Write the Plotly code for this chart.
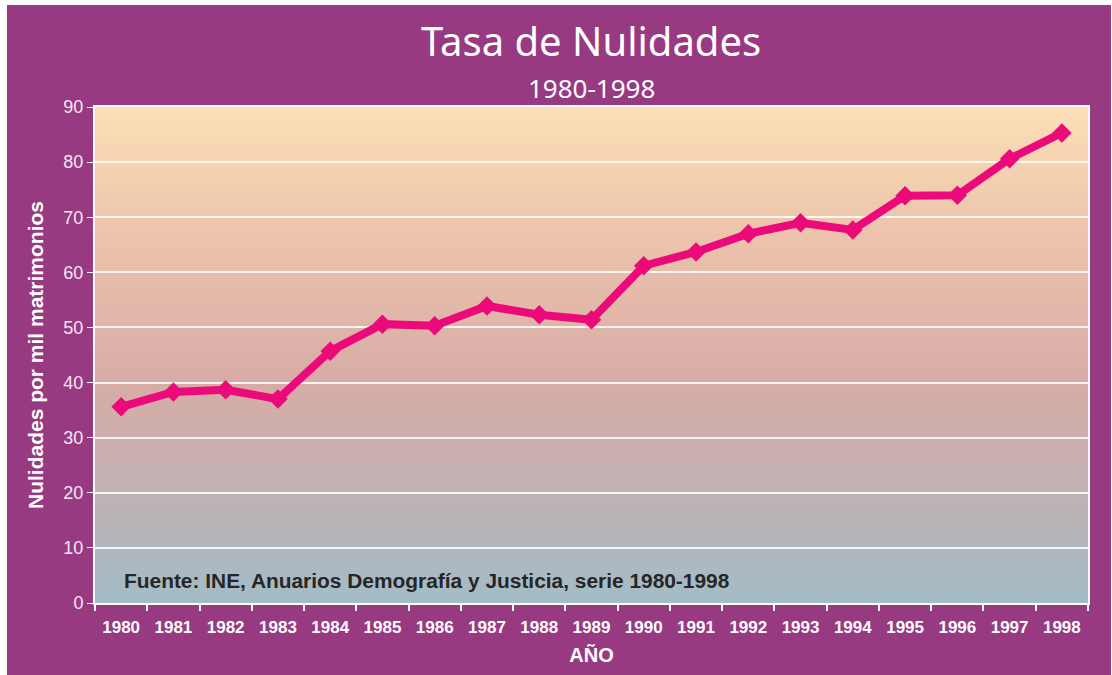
import plotly.graph_objects as go

years = ["1980","1981","1982","1983","1984","1985","1986","1987","1988","1989",
         "1990","1991","1992","1993","1994","1995","1996","1997","1998"]
rates = [35.6, 38.3, 38.7, 37.0, 45.7, 50.6, 50.3, 53.9, 52.3, 51.4,
         61.2, 63.7, 67.0, 69.0, 67.7, 73.9, 74.0, 80.6, 85.3]
y_ticks = [0, 10, 20, 30, 40, 50, 60, 70, 80, 90]

PURPLE = "#983A82"
LINE = "#EC0A7A"

def lerp(c1, c2, t):
    return tuple(round(a + (b - a) * t) for a, b in zip(c1, c2))

stops = [(0.0, (163, 188, 200)), (0.22, (192, 178, 180)), (0.45, (216, 172, 166)),
         (0.75, (236, 196, 172)), (1.0, (253, 223, 183))]

def color_at(t):
    for (t0, c0), (t1, c1) in zip(stops[:-1], stops[1:]):
        if t0 <= t <= t1:
            return "rgb(%d,%d,%d)" % lerp(c0, c1, (t - t0) / (t1 - t0))
    return "rgb(%d,%d,%d)" % stops[-1][1]

shapes = [dict(type="rect", xref="paper", yref="paper", x0=-88/993, x1=(1111-95)/993,
               y0=-72/496, y1=(675-5-72)/496, fillcolor=PURPLE, line=dict(width=0), layer="below")]
N = 90
for i in range(N):
    y0 = i / N
    y1 = (i + 1) / N + 0.002
    shapes.append(dict(type="rect", xref="paper", yref="paper", x0=0, x1=1, y0=y0, y1=min(y1, 1),
                       fillcolor=color_at((i + 0.5) / N), line=dict(width=0), layer="below"))

fig = go.Figure()
fig.add_trace(go.Scatter(
    x=years, y=rates, mode="lines+markers",
    line=dict(color=LINE, width=8),
    marker=dict(symbol="diamond", size=15, color=LINE),
    hoverinfo="x+y", showlegend=False))

fig.update_layout(
    width=1112, height=675,
    paper_bgcolor="white", plot_bgcolor="rgba(0,0,0,0)",
    margin=dict(l=95, r=24, t=107, b=72),
    shapes=shapes,
    font=dict(family="Liberation Sans, Arial, sans-serif", color="white"),
    xaxis=dict(type="category", tickson="boundaries", ticks="outside", ticklen=6,
               tickcolor="white", tickwidth=1.5, showgrid=False,
               showline=True, linecolor="white", linewidth=2, mirror=True,
               ticklabelstandoff=8,
               tickfont=dict(size=17, color="white", family="Liberation Sans, Arial, sans-serif", weight="bold"),
               title=dict(text="<b>AÑO</b>", font=dict(size=20, color="white"), standoff=12),
               range=[-0.5, 18.5]),
    yaxis=dict(range=[0, 90], tickvals=y_ticks, ticks="outside", ticklen=6, tickcolor="white",
               showgrid=True, gridcolor="rgba(255,255,255,0.85)", gridwidth=1.5,
               showline=True, linecolor="white", linewidth=2, mirror=True, zeroline=False,
               tickfont=dict(size=18, color="#F3E6F0"),
               title=dict(text="<b>Nulidades por mil matrimonios</b>", font=dict(size=21, color="white"), standoff=14)),
    annotations=[
        dict(text="Tasa de Nulidades", xref="paper", yref="paper", x=(591-95)/993, y=(603-40)/496,
             xanchor="center", yanchor="middle", showarrow=False,
             font=dict(family="Noto Sans, Open Sans, sans-serif", size=40, color="white")),
        dict(text="1980-1998", xref="paper", yref="paper", x=(591-95)/993, y=(603-88)/496,
             xanchor="center", yanchor="middle", showarrow=False,
             font=dict(family="Noto Sans, Open Sans, sans-serif", size=26, color="white")),
        dict(text="<b>Fuente: INE, Anuarios Demografía y Justicia, serie 1980-1998</b>",
             xref="paper", yref="paper", x=(122-95)/993, y=(603-580)/496,
             xanchor="left", yanchor="middle", showarrow=False,
             font=dict(size=20.9, color="#262626")),
    ],
)

fig.write_html("out.html", config={"displayModeBar": False},
               post_script="document.body.style.margin='0';document.body.style.overflow='hidden';")
